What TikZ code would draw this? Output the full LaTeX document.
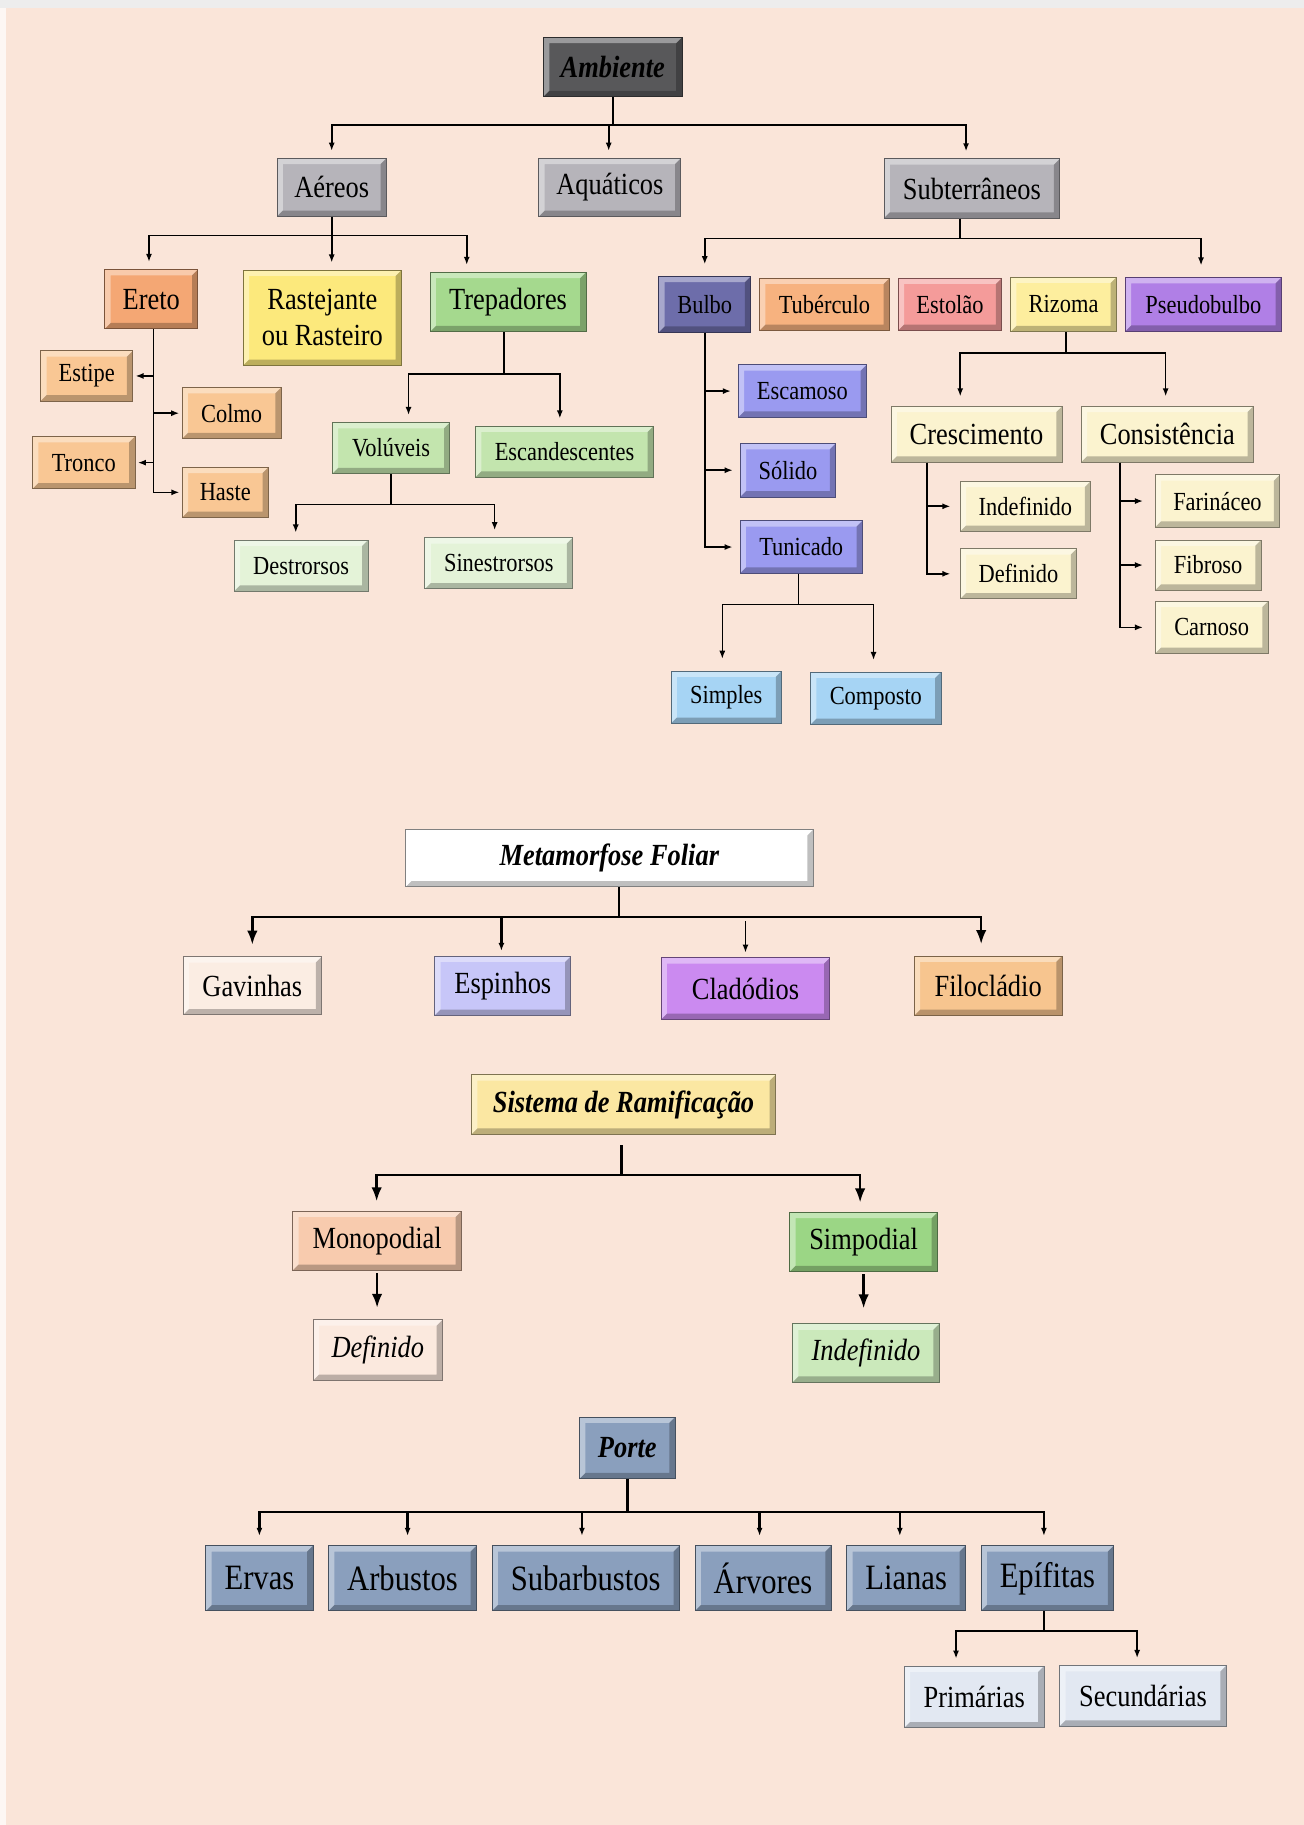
\documentclass[tikz,border=0pt]{standalone}
\usepackage{fontspec}
\setmainfont{Liberation Serif}[FakeStretch=0.86]
\usepackage{xcolor}
\usepackage{tikz}
\usetikzlibrary{positioning, arrows.meta}

\definecolor{bgpeach}{RGB}{250,229,217}
\definecolor{ambgrey}{RGB}{88,88,90}
\definecolor{boxgrey}{RGB}{182,180,186}
\definecolor{eretoor}{RGB}{244,167,116}
\definecolor{lightor}{RGB}{249,199,148}
\definecolor{rasyel}{RGB}{252,233,124}
\definecolor{trepgr}{RGB}{165,217,142}
\definecolor{volgr}{RGB}{195,229,174}
\definecolor{desgr}{RGB}{228,243,216}
\definecolor{bulbobl}{RGB}{109,109,170}
\definecolor{escbl}{RGB}{154,154,240}
\definecolor{simbl}{RGB}{166,212,244}
\definecolor{tubor}{RGB}{247,178,127}
\definecolor{estred}{RGB}{244,155,154}
\definecolor{rizyel}{RGB}{253,238,158}
\definecolor{pseupu}{RGB}{176,127,230}
\definecolor{cream}{RGB}{251,243,207}
\definecolor{gavpe}{RGB}{251,237,227}
\definecolor{espbl}{RGB}{199,198,248}
\definecolor{clapu}{RGB}{203,138,240}
\definecolor{filor}{RGB}{247,197,143}
\definecolor{sisyel}{RGB}{251,231,162}
\definecolor{monpe}{RGB}{248,203,174}
\definecolor{simgr}{RGB}{155,214,133}
\definecolor{defpe}{RGB}{251,233,222}
\definecolor{indgr}{RGB}{203,233,187}
\definecolor{portebl}{RGB}{138,159,189}
\definecolor{pribl}{RGB}{226,232,242}

\tikzset{
  bx/.style={rectangle, fill=#1, draw=#1!50!black, line width=0.4pt, inner sep=1pt, align=center,
    path picture={
      \coordinate (pbl) at (path picture bounding box.south west);
      \coordinate (ptr) at (path picture bounding box.north east);
      \fill[white, opacity=.4] (pbl) -- ([shift={(2.5pt,2.5pt)}]pbl) |- ([shift={(-2.5pt,-2.5pt)}]ptr) -- (ptr) -- (pbl |- ptr) -- cycle;
      \fill[black, opacity=.25] (pbl) -- ([shift={(2.5pt,2.5pt)}]pbl) -| ([shift={(-2.5pt,-2.5pt)}]ptr) -- (ptr) -- (ptr |- pbl) -- cycle;
    }},
  wh/.style 2 args={minimum width=#1, minimum height=#2},
  sm/.style={font=\fontsize{11.2}{13}\selectfont},
  md/.style={font=\fontsize{13.2}{15.5}\selectfont},
  lg/.style={font=\fontsize{15.3}{17}\selectfont},
  arr/.style={-{Latex[length=3.5pt,width=2.6pt]}, line width=0.7pt, shorten >=3pt},
  bigarr/.style={-{Latex[length=6pt,width=4.5pt]}, line width=1pt, shorten >=5pt},
}

\begin{document}
\begin{tikzpicture}[x=0.5pt, y=-0.5pt]

        \fill[bgpeach] (0,0) rectangle (1120,1568);
        \fill[black!7] (0,0) rectangle (1120,7);
        \fill[white!70!bgpeach] (0,7) rectangle (5,1568);
        \useasboundingbox (0,0) rectangle (1120,1568);

        \node[bx=ambgrey, md, wh={59.5pt}{25.5pt}] (amb) at (526.5,57.5) {\textbf{\textit{Ambiente}}};

        \node[bx=boxgrey, md, wh={47pt}{25pt}] (aer) at (285,161) {Aéreos};
        \node[bx=boxgrey, md, wh={61pt}{25pt}] (aqu) at (524,161) {Aquáticos};
        \node[bx=boxgrey, md, wh={75.5pt}{25.5pt}] (sub) at (835,162) {Subterrâneos};

        \node[bx=eretoor, md, wh={40pt}{25.5pt}] (ere) at (130,257) {Ereto};
        \node[bx=rasyel, md, wh={68pt}{41pt}] (ras) at (277,273) {Rastejante\\ou Rasteiro};
        \node[bx=trepgr, md, wh={67pt}{25.5pt}] (tre) at (436.5,259.5) {Trepadores};

        \node[bx=lightor, sm, wh={39.5pt}{21.5pt}] (est) at (74.5,323) {Estipe};
        \node[bx=lightor, sm, wh={42.5pt}{22pt}] (col) at (199,355) {Colmo};
        \node[bx=lightor, sm, wh={44pt}{22.5pt}] (tro) at (72,397.5) {Tronco};
        \node[bx=lightor, sm, wh={37pt}{21.5pt}] (has) at (193.6,423) {Haste};

        \node[bx=volgr, sm, wh={50.5pt}{22pt}] (vol) at (336,385) {Volúveis};
        \node[bx=volgr, sm, wh={76.5pt}{22pt}] (esc) at (485,388) {Escandescentes};
        \node[bx=desgr, sm, wh={57.5pt}{22pt}] (des) at (258.7,486) {Destrorsos};
        \node[bx=desgr, sm, wh={63.5pt}{22pt}] (sin) at (428.6,484) {Sinestrorsos};

        \node[bx=bulbobl, sm, wh={39.5pt}{24pt}] (bul) at (605.5,261.5) {Bulbo};
        \node[bx=tubor, sm, wh={55.75pt}{22.5pt}] (tub) [right=3.4pt of bul] {Tubérculo};
        \node[bx=estred, sm, wh={44.5pt}{22.5pt}] (eso) [right=3.4pt of tub] {Estolão};
        \node[bx=rizyel, sm, wh={45.5pt}{23.5pt}] (riz) [right=3.4pt of eso] {Rizoma};
        \node[bx=pseupu, sm, wh={67pt}{23pt}] (pse) [right=3.4pt of riz] {Pseudobulbo};

        \node[bx=escbl, sm, wh={55pt}{22.5pt}] (esm) at (689.4,336) {Escamoso};
        \node[bx=escbl, sm, wh={41pt}{23pt}] (sol) at (677,404) {Sólido};
        \node[bx=escbl, sm, wh={52.5pt}{22.5pt}] (tun) at (688.4,470) {Tunicado};
        \node[bx=simbl, sm, wh={47.5pt}{22.5pt}] (sim) at (624,599) {Simples};
        \node[bx=simbl, sm, wh={56pt}{22.5pt}] (cmp) at (752.5,600) {Composto};

        \node[bx=cream, md, wh={73.5pt}{24pt}] (cre) at (839,373) {Crescimento};
        \node[bx=cream, md, wh={74pt}{24pt}] (con) at (1003,373) {Consistência};
        \node[bx=cream, sm, wh={56pt}{21.5pt}] (ind) at (881,435) {Indefinido};
        \node[bx=cream, sm, wh={50pt}{21.5pt}] (def) at (875,493) {Definido};
        \node[bx=cream, sm, wh={53.5pt}{22.5pt}] (far) at (1046,430.5) {Farináceo};
        \node[bx=cream, sm, wh={45.5pt}{21.5pt}] (fib) at (1038,485.5) {Fibroso};
        \node[bx=cream, sm, wh={48.5pt}{22.5pt}] (car) at (1041,539) {Carnoso};

        \node[bx=white, md, wh={175pt}{24.5pt}] (met) at (523.6,737.5) {\textbf{\textit{Metamorfose Foliar}}};
        \node[bx=gavpe, md, wh={59.5pt}{25pt}] (gav) at (216.8,847) {Gavinhas};
        \node[bx=espbl, md, wh={58.5pt}{25.5pt}] (esp) at (432,847) {Espinhos};
        \node[bx=clapu, md, wh={72.5pt}{26.5pt}] (cla) at (640.5,849.4) {Cladódios};
        \node[bx=filor, md, wh={63.5pt}{25.5pt}] (fil) at (849,847) {Filocládio};

        \node[bx=sisyel, md, wh={130.5pt}{25.5pt}] (sis) at (535.7,949) {\textbf{\textit{Sistema de Ramificação}}};
        \node[bx=monpe, md, wh={72.5pt}{25.5pt}] (mon) at (324,1066) {Monopodial};
        \node[bx=simgr, md, wh={63.5pt}{25.5pt}] (smp) at (742,1067) {Simpodial};
        \node[bx=defpe, md, wh={55.5pt}{26pt}] (mdf) at (324.6,1160) {\textit{Definido}};
        \node[bx=indgr, md, wh={63pt}{25pt}] (sdf) at (744,1162.5) {\textit{Indefinido}};

        \node[bx=portebl, md, wh={41pt}{26.5pt}] (por) at (539,1244) {\textbf{\textit{Porte}}};
        \node[bx=portebl, lg, wh={46pt}{28pt}] (erv) at (222.9,1356) {Ervas};
        \node[bx=portebl, lg, wh={63.5pt}{28pt}] (arb) [right=6.3pt of erv] {Arbustos};
        \node[bx=portebl, lg, wh={80.5pt}{28pt}] (sba) [right=6.3pt of arb] {Subarbustos};
        \node[bx=portebl, lg, wh={58.5pt}{28pt}] (arv) [right=6.3pt of sba] {Árvores};
        \node[bx=portebl, lg, wh={51pt}{28pt}] (lia) [right=6.3pt of arv] {Lianas};
        \node[bx=portebl, lg, wh={57pt}{28pt}] (epi) [right=6.3pt of lia] {Epífitas};
        \node[bx=pribl, md, wh={60pt}{26.5pt}] (pri) at (837,1458) {Primárias};
        \node[bx=pribl, md, wh={71.5pt}{26pt}] (sec) at (982,1457) {Secundárias};

        \draw[arr] (amb.south) -- ++(0,24) -| (aer.north);
        \draw[arr] (amb.south) -- ++(0,24) -| ([xshift=-0.5pt]aqu.north);
        \draw[arr] (amb.south) -- ++(0,24) -| ([xshift=-2.5pt]sub.north);

        \draw[arr] (aer.south) -- ++(0,16) -| ([xshift=-1pt]ere.north);
        \draw[arr] (aer.south) -- ++(0,16) -| ([xshift=4pt]ras.north);
        \draw[arr] (aer.south) -- ++(0,16) -| ([xshift=-17.75pt]tre.north);

        \draw[arr, shorten >=1pt] ([xshift=1pt]ere.south) |- (est.east);
        \draw[arr, shorten >=1pt] ([xshift=1pt]ere.south) |- (col.west);
        \draw[arr, shorten >=1pt] ([xshift=1pt]ere.south) |- (tro.east);
        \draw[arr, shorten >=1pt] ([xshift=1pt]ere.south) |- (has.west);

        \draw[arr] ([xshift=-1.75pt]tre.south) -- ++(0,36) -| ([xshift=7.5pt]vol.north);
        \draw[arr] ([xshift=-1.75pt]tre.south) -- ++(0,36) -| ([xshift=-2pt]esc.north);
        \draw[arr] (vol.south) -- ++(0,26) -| ([xshift=-2.3pt]des.north);
        \draw[arr] (vol.south) -- ++(0,26) -| ([xshift=-1.8pt]sin.north);

        \draw[arr, shorten >=5pt] ([xshift=-5pt]sub.south) -- ++(0,17) -| (bul.north);
        \draw[arr, shorten >=5pt] ([xshift=-5pt]sub.south) -- ++(0,17) -| ([xshift=-1pt]pse.north);

        \draw[arr] (bul.south) |- (esm.west);
        \draw[arr] (bul.south) |- (sol.west);
        \draw[arr] (bul.south) |- (tun.west);
        \draw[arr, shorten >=5pt] ([xshift=-1.2pt]tun.south) -- ++(0,26.5) -| ([xshift=-1.7pt]sim.north);
        \draw[arr, shorten >=5pt] ([xshift=-1.2pt]tun.south) -- ++(0,26.5) -| ([xshift=-1pt]cmp.north);

        \draw[arr, shorten >=4pt] ([xshift=1pt]riz.south) -- ++(0,18) -| ([xshift=-7pt]cre.north);
        \draw[arr, shorten >=4pt] ([xshift=1pt]riz.south) -- ++(0,18) -| ([xshift=-0.75pt]con.north);
        \draw[arr, shorten >=4pt] ([xshift=-21.4pt]cre.south) |- (ind.west);
        \draw[arr, shorten >=4pt] ([xshift=-21.4pt]cre.south) |- (def.west);
        \draw[arr, shorten >=5pt] ([xshift=-20.5pt]con.south) |- (far.west);
        \draw[arr, shorten >=5pt] ([xshift=-20.5pt]con.south) |- (fib.west);
        \draw[arr, shorten >=5pt] ([xshift=-20.5pt]con.south) |- (car.west);

        \draw[bigarr] ([xshift=4.2pt]met.south) -- ++(0,25.6) -| (gav.north);
        \draw[arr, line width=1pt, shorten >=2pt] ([xshift=4.2pt]met.south) -- ++(0,25.6) -| ([xshift=-0.6pt]esp.north);
        \draw[bigarr] ([xshift=4.2pt]met.south) -- ++(0,25.6) -| ([xshift=-3pt]fil.north);
        \draw[arr, shorten >=2pt] ([yshift=15.5pt]cla.north) -- (cla.north);

        \draw[bigarr, shorten >=4pt] ([shift={(-0.85pt,-4.6pt)}]sis.south) -- ++(0,25.2) -| ([xshift=-0.2pt]mon.north);
        \draw[bigarr, shorten >=4pt] ([shift={(-0.85pt,-4.6pt)}]sis.south) -- ++(0,25.2) -| ([xshift=-1.5pt]smp.north);
        \draw[bigarr, shorten <=1pt] (mon.south) -- (mon.south |- mdf.north);
        \draw[bigarr, shorten <=1pt, shorten >=6.5pt] (smp.south) -- (smp.south |- sdf.north);

        \draw[arr, line width=1.1pt, shorten >=4pt] (por.south) -- ++(0,28) -| (erv.north);
        \draw[arr, line width=1.1pt, shorten >=4pt] (por.south) -- ++(0,28) -| ([xshift=2.2pt]arb.north);
        \draw[arr, line width=1.1pt, shorten >=4pt] (por.south) -- ++(0,28) -| ([xshift=-1.6pt]sba.north);
        \draw[arr, line width=1.1pt, shorten >=4pt] (por.south) -- ++(0,28) -| ([xshift=-1.5pt]arv.north);
        \draw[arr, line width=1.1pt, shorten >=4pt] (por.south) -- ++(0,28) -| ([xshift=-2.7pt]lia.north);
        \draw[arr, line width=1.1pt, shorten >=4pt] (por.south) -- ++(0,28) -| ([xshift=-1.5pt]epi.north);
        \draw[arr, line width=1pt] ([xshift=-1.5pt]epi.south) -- ++(0,17) -| ([xshift=-7.8pt]pri.north);
        \draw[arr, line width=1pt] ([xshift=-1.5pt]epi.south) -- ++(0,17) -| ([xshift=-2.5pt]sec.north);

\end{tikzpicture}
\end{document}
